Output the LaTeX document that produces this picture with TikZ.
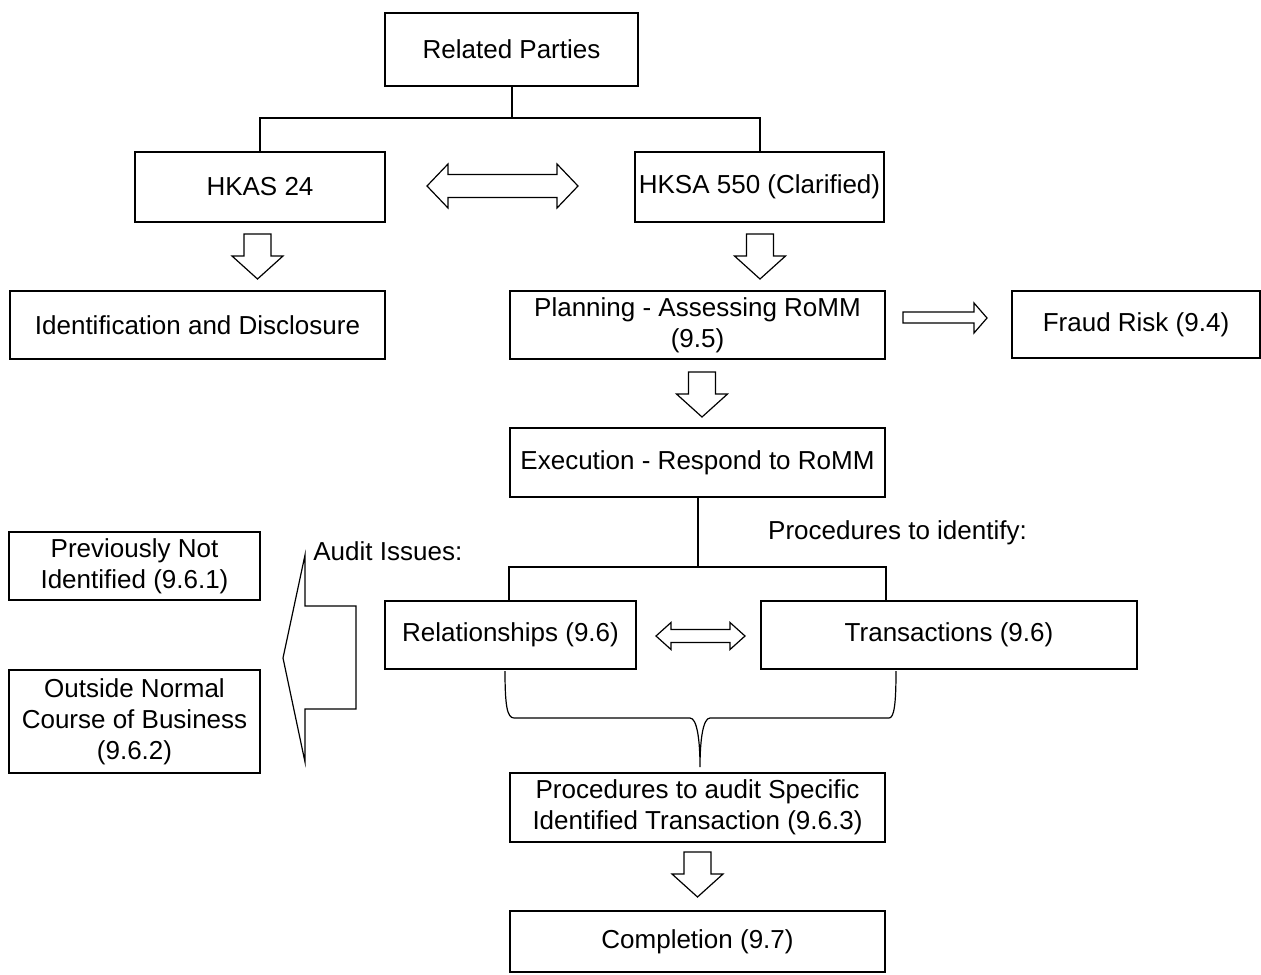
\documentclass[tikz,border=0pt]{standalone}
\usepackage{fontspec}
\setmainfont{Liberation Sans}
\usepackage{tikz}

\begin{document}
\begin{tikzpicture}[x=0.5pt, y=-0.5pt,
    box/.style={draw, line width=1pt, inner sep=0pt, align=center,
                font=\fontsize{13}{15.5}\selectfont},
    label/.style={inner sep=0pt, font=\fontsize{13}{15.5}\selectfont},
    link/.style={line width=1pt},
    blockline/.style={line width=0.6pt, line join=miter},
    downarr/.pic={\draw[blockline] (-13.5,0) -- (13.5,0) -- (13.5,22) -- (25.5,22)
                   -- (0,45) -- (-25.5,22) -- (-13.5,22) -- cycle;}]
  \useasboundingbox (0,0) rectangle (1261,974);

  % boxes
  \node[box, minimum width=126.5pt, minimum height=36.5pt] (rp) at (511.5,49.5) {Related Parties};
  \node[box, minimum width=125pt, minimum height=35pt] (hkas) at (260,187) {HKAS 24};
  \node[box, minimum width=124.5pt, minimum height=35pt] (hksa) at (759.5,187) {HKSA 550 (Clarified)};
  \node[box, minimum width=187.5pt, minimum height=34pt] (ident) at (197.5,325) {Identification and Disclosure};
  \node[box, minimum width=187.5pt, minimum height=34pt] (plan) at (697.5,325) {Planning - Assessing RoMM\\(9.5)};
  \node[box, minimum width=124pt, minimum height=33.5pt] (fraud) at (1136,324.5) {Fraud Risk (9.4)};
  \node[box, minimum width=187.5pt, minimum height=34.5pt] (exec) at (697.5,462.5) {Execution - Respond to RoMM};
  \node[box, minimum width=125.5pt, minimum height=34pt] (rel) at (510.5,635) {Relationships (9.6)};
  \node[box, minimum width=188pt, minimum height=34pt] (trans) at (949,635) {Transactions (9.6)};
  \node[box, minimum width=125.5pt, minimum height=34pt] (prev) at (134.5,566) {Previously Not\\Identified (9.6.1)};
  \node[box, minimum width=125.5pt, minimum height=51.5pt] (outside) at (134.5,721.5) {Outside Normal\\Course of Business\\(9.6.2)};
  \node[box, minimum width=187.5pt, minimum height=34.5pt] (proc) at (697.5,807.5) {Procedures to audit Specific\\Identified Transaction (9.6.3)};
  \node[box, minimum width=187.5pt, minimum height=30.5pt] (compl) at (697.5,941.5) {Completion (9.7)};

  \node[label] (ident-lbl) at (897.5,533) {Procedures to identify:};
  \node[label, anchor=west] (issue-lbl) at (313,551) {Audit Issues:};

  % tree lines
  \coordinate (split1) at (511.5,118);
  \draw[link] (rp.south) -- (split1);
  \draw[link] (hkas.north) |- (split1) -| (hksa.north);
  \coordinate (split2) at (697.5,567);
  \draw[link] (exec.south) -- (split2);
  \draw[link] (exec.south west |- rel.north) |- (split2) -| (exec.south east |- trans.north);

  % block arrows
  \pic at (257.5,234) {downarr};
  \pic at (760,234) {downarr};
  \pic at (702,372) {downarr};
  \pic at (697.5,852) {downarr};
  \draw[blockline] (427,186) -- (448,164) -- (448,174.5) -- (557,174.5) -- (557,164) -- (578,186)
    -- (557,208) -- (557,197.5) -- (448,197.5) -- (448,208) -- cycle;
  \draw[blockline] (656,636) -- (671,622.5) -- (671,629.5) -- (730,629.5) -- (730,622.5) -- (745,636)
    -- (730,649.5) -- (730,642.5) -- (671,642.5) -- (671,649.5) -- cycle;
  \draw[blockline] (903,312) -- (974,312) -- (974,303) -- (987,318) -- (974,333) -- (974,323)
    -- (903,323) -- cycle;
  \draw[blockline] (283,658) -- (305,555) -- (305,606) -- (356,606) -- (356,709) -- (305,709)
    -- (305,762) -- cycle;

  % brace
  \draw[line width=0.6pt] (505,671) .. controls (505,705) and (507,718) .. (514,718) -- (690,718)
    .. controls (697,718) and (700,740) .. (700,767)
    .. controls (700,740) and (703,718) .. (710,718) -- (889,718)
    .. controls (894,718) and (896,705) .. (896,671);
\end{tikzpicture}
\end{document}
